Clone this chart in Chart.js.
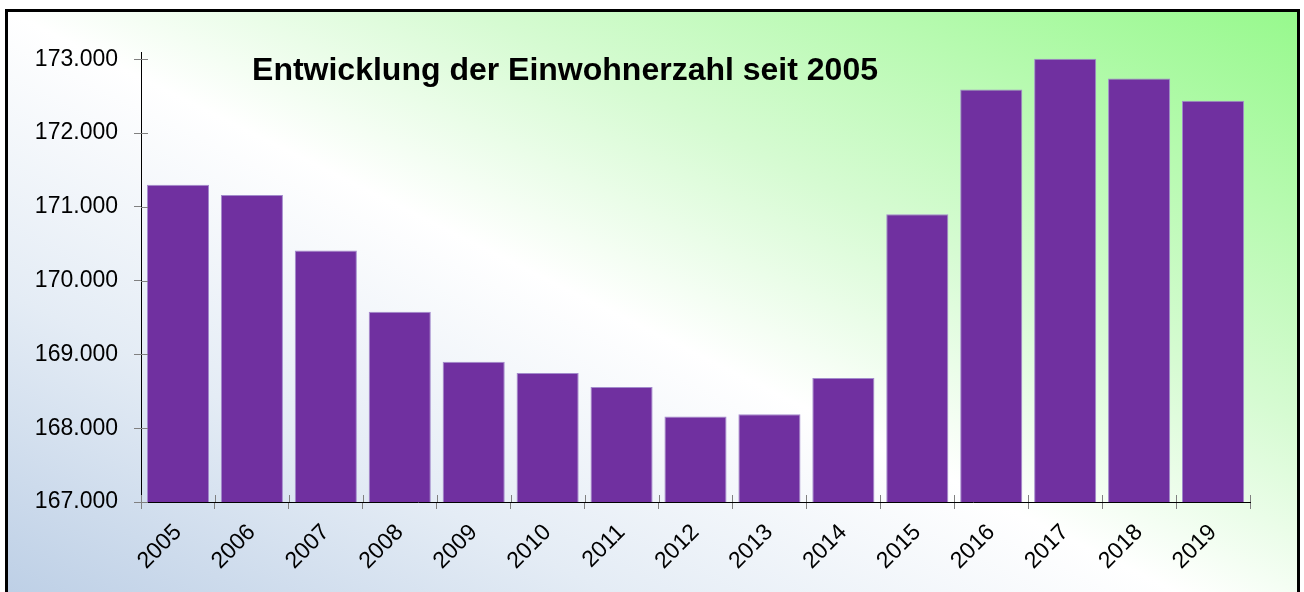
<!DOCTYPE html>
<html>
<head>
<meta charset="utf-8">
<script src="https://cdn.jsdelivr.net/npm/chart.js@4.4.1/dist/chart.umd.min.js"></script>
<style>
  html, body { margin: 0; padding: 0; width: 1304px; height: 592px; overflow: hidden; background: #ffffff; }
  #frame {
    position: absolute; left: 5px; top: 9px; width: 1289px; height: 640px;
    border: 3px solid #000;
    background: linear-gradient(to top right, #b6cae3 0%, #e4ecf5 28%, #ffffff 50%, #d6fbd2 68%, #97f98d 100%);
  }
  #wrap { position: absolute; left: 0; top: 0; width: 1304px; height: 592px; }
</style>
</head>
<body>
<div id="frame"></div>
<div id="wrap"><canvas id="c" width="1304" height="592"></canvas></div>
<script>
// ---- data ----
const years = ['2005','2006','2007','2008','2009','2010','2011','2012','2013','2014','2015','2016','2017','2018','2019'];
const population = [171300, 171160, 170410, 169580, 168900, 168750, 168560, 168160, 168190, 168680, 170900, 172590, 173010, 172740, 172440];
const yTickValues = [167000, 168000, 169000, 170000, 171000, 172000, 173000];
const chartTitle = 'Entwicklung der Einwohnerzahl seit 2005';

const FONT = '"Liberation Sans", Arial, sans-serif';

function fmt(v) {
  return String(v).replace(/\B(?=(\d{3})+(?!\d))/g, '.');
}

const innerTicks = {
  id: 'innerTicks',
  afterDatasetsDraw(chart) {
    const { ctx, chartArea, scales: { x, y } } = chart;
    ctx.save();
    ctx.strokeStyle = '#808080';
    ctx.lineWidth = 1;
    ctx.beginPath();
    y.ticks.forEach((t, i) => {
      const py = Math.round(y.getPixelForTick(i)) + 0.5;
      ctx.moveTo(chartArea.left, py);
      ctx.lineTo(chartArea.left + 7, py);
    });
    for (let i = 0; i <= years.length; i++) {
      const px = Math.round(x.getPixelForValue(i - 0.5)) + 0.5;
      ctx.moveTo(px, chartArea.bottom);
      ctx.lineTo(px, chartArea.bottom - 7);
    }
    ctx.stroke();
    ctx.restore();
  }
};

const titlePlugin = {
  id: 'insideTitle',
  afterDraw(chart) {
    const { ctx } = chart;
    ctx.save();
    ctx.font = 'bold 32px ' + FONT;
    ctx.fillStyle = '#000';
    ctx.textAlign = 'center';
    ctx.textBaseline = 'alphabetic';
    ctx.fillText(chartTitle, 565, 80);
    ctx.restore();
  }
};

new Chart(document.getElementById('c'), {
  type: 'bar',
  data: {
    labels: years,
    datasets: [{
      data: population,
      backgroundColor: '#7030a0',
      borderColor: '#a38bcc',
      borderWidth: 1,
      barPercentage: 0.84,
      categoryPercentage: 1.0
    }]
  },
  options: {
    responsive: false,
    animation: false,
    layout: { padding: { top: 52, right: 54, bottom: 0, left: 0 } },
    plugins: { legend: { display: false }, tooltip: { enabled: false }, title: { display: false } },
    scales: {
      x: {
        afterFit(s) { s.height = 90; },
        grid: { display: true, drawOnChartArea: false, drawTicks: true, tickLength: 7, color: '#808080', lineWidth: 1 },
        border: { display: true, color: '#000', width: 1 },
        ticks: { color: '#000', font: { family: FONT, size: 23 }, minRotation: 45, maxRotation: 45, padding: 10 }
      },
      y: {
        min: 167000,
        max: 173100,
        afterFit(s) { s.width = 141; },
        afterBuildTicks(s) { s.ticks = yTickValues.map(v => ({ value: v })); },
        grid: { display: true, drawOnChartArea: false, drawTicks: true, tickLength: 7, color: '#808080', lineWidth: 1 },
        border: { display: true, color: '#000', width: 1 },
        ticks: { color: '#000', font: { family: FONT, size: 23 }, padding: 16, stepSize: 1000, callback: (v) => fmt(v) }
      }
    }
  },
  plugins: [innerTicks, titlePlugin]
});
</script>
</body>
</html>
